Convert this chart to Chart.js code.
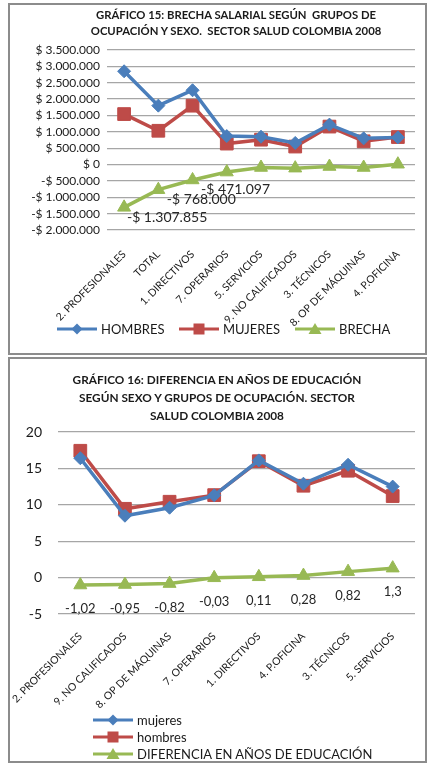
<!DOCTYPE html>
<html>
<head>
<meta charset="utf-8">
<script src="https://cdn.jsdelivr.net/npm/chart.js@4.4.1/dist/chart.umd.min.js"></script>
<style>
  html, body { margin:0; padding:0; background:#fff; }
  body { width:433px; height:771px; position:relative; overflow:hidden; font-family: Lato, "Open Sans", sans-serif; color:#1a1a1a; }
  .box { position:absolute; box-sizing:border-box; border:2px solid #8c8c8c; background:#fff; }
  .box canvas { position:absolute; left:0; top:0; }
  .title { position:absolute; font-weight:bold; text-align:center; white-space:pre; color:#1a1a1a; }
  .leg { position:absolute; display:flex; align-items:center; font-size:13px; color:#1a1a1a; white-space:nowrap; }
  .leg svg { margin-right:4px; }
</style>
</head>
<body>
<div class="box" id="box1" style="left:8px; top:3px; width:419px; height:352px;">
  <canvas id="c1"></canvas>
</div>
<div class="box" id="box2" style="left:8px; top:357px; width:419px; height:406px;">
  <canvas id="c2"></canvas>
</div>

<div class="title" style="left:36px; width:400px; top:7px; font-size:11.3px; line-height:16px;">GRÁFICO 15: BRECHA SALARIAL SEGÚN  GRUPOS DE
OCUPACIÓN Y SEXO.  SECTOR SALUD COLOMBIA 2008</div>
<div class="title" style="left:17px; width:400px; top:371px; font-size:11.8px; line-height:18px;">GRÁFICO 16: DIFERENCIA EN AÑOS DE EDUCACIÓN
SEGÚN SEXO Y GRUPOS DE OCUPACIÓN. SECTOR
SALUD COLOMBIA 2008</div>

<div id="legends"></div>

<script>
// ---------- DATA: Gráfico 15 ----------
const categories1 = ["2. PROFESIONALES","TOTAL","1. DIRECTIVOS","7. OPERARIOS","5. SERVICIOS","9. NO CALIFICADOS","3. TÉCNICOS","8. OP DE MÁQUINAS","4. P.OFICINA"];
const hombres1 = [2850000, 1800000, 2270000, 870000, 850000, 660000, 1220000, 800000, 830000];
const mujeres1 = [1542145, 1032000, 1798903, 640000, 760000, 550000, 1160000, 710000, 840000];
const brecha1  = [-1307855, -768000, -471097, -230000, -90000, -110000, -60000, -90000, 10000];
const labeledBrecha1 = [0, 1, 2];
const yTicks1 = {min: -2000000, max: 3500000, step: 500000};

// ---------- DATA: Gráfico 16 ----------
const categories2 = ["2. PROFESIONALES","9. NO CALIFICADOS","8. OP DE MÁQUINAS","7. OPERARIOS","1. DIRECTIVOS","4. P.OFICINA","3. TÉCNICOS","5. SERVICIOS"];
const mujeres2 = [16.4, 8.5, 9.6, 11.3, 16.1, 12.9, 15.5, 12.5];
const hombres2 = [17.42, 9.45, 10.42, 11.33, 15.99, 12.62, 14.68, 11.2];
const diferencia2 = [-1.02, -0.95, -0.82, -0.03, 0.11, 0.28, 0.82, 1.3];
const yTicks2 = {min: -5, max: 20, step: 5};

const BLUE = '#4a7ebb', RED = '#be4b48', GREEN = '#98b954';
const FONT = 'Lato, "Open Sans", sans-serif';
const TXT = '#1a1a1a';

function money(v){
  const a = Math.abs(v);
  const s = a.toString().replace(/\B(?=(\d{3})+(?!\d))/g, '.');
  return (v < 0 ? '-$ ' : '$ ') + s;
}

const labelPlugin = {
  id: 'ptLabels',
  afterDatasetsDraw(chart, args, opts) {
    if (!opts || !opts.items) return;
    const ctx = chart.ctx;
    const meta = chart.getDatasetMeta(opts.dataset);
    ctx.save();
    ctx.font = opts.font;
    ctx.fillStyle = opts.color;
    ctx.textAlign = 'center';
    ctx.textBaseline = 'middle';
    opts.items.forEach(i => {
      const p = meta.data[i];
      const v = chart.data.datasets[opts.dataset].data[i];
      ctx.fillText(opts.format(v), p.x + opts.dx, p.y + opts.dy);
    });
    ctx.restore();
  }
};

function setupCanvas(id, w, h){
  const c = document.getElementById(id);
  c.width = w; c.height = h;
  c.style.width = w + 'px'; c.style.height = h + 'px';
  return c;
}

function ds(label, data, color, style, radius){
  return {
    label, data,
    borderColor: color, backgroundColor: color,
    pointBackgroundColor: color, pointBorderColor: color,
    borderWidth: 3.5, pointStyle: style, pointRadius: radius, pointHoverRadius: radius,
    pointBorderWidth: 1, tension: 0, fill: false
  };
}

// ---------- Chart 1 ----------
const c1 = setupCanvas('c1', 415, 348);
new Chart(c1, {
  type: 'line',
  data: {
    labels: categories1,
    datasets: [
      ds('HOMBRES', hombres1, BLUE, 'rectRot', 6.5),
      ds('MUJERES', mujeres1, RED, 'rect', 9),
      ds('BRECHA', brecha1, GREEN, 'triangle', 7.5)
    ]
  },
  options: {
    responsive: false, animation: false, devicePixelRatio: 1,
    layout: { padding: { top: 45, left: 0, right: 0, bottom: 0 } },
    plugins: {
      legend: { display: false }, title: { display: false }, tooltip: { enabled: false },
      ptLabels: { dataset: 2, items: labeledBrecha1, dx: 43, dy: 10, font: '14px ' + FONT, color: '#262626', format: money }
    },
    scales: {
      y: {
        min: yTicks1.min, max: yTicks1.max,
        afterFit(s){ s.width = 97; },
        ticks: { stepSize: yTicks1.step, autoSkip: false, padding: 7, color: TXT, font: { family: FONT, size: 12 }, callback: v => money(v) },
        grid: { color: '#a6a6a6', lineWidth: 1.3, drawTicks: false },
        border: { display: false }
      },
      x: {
        offset: true,
        afterFit(s){ s.height = 123; s.paddingLeft = 0; s.paddingRight = 0; },
        ticks: { minRotation: 45, maxRotation: 45, autoSkip: false, padding: 18, color: TXT, font: { family: FONT, size: 10.5 } },
        grid: { display: false, drawTicks: false },
        border: { display: false }
      }
    }
  },
  plugins: [labelPlugin]
});

// ---------- Chart 2 ----------
const c2 = setupCanvas('c2', 415, 402);
new Chart(c2, {
  type: 'line',
  data: {
    labels: categories2,
    datasets: [
      ds('mujeres', mujeres2, BLUE, 'rectRot', 6.5),
      ds('hombres', hombres2, RED, 'rect', 9),
      ds('DIFERENCIA EN AÑOS DE EDUCACIÓN', diferencia2, GREEN, 'triangle', 7.5)
    ]
  },
  options: {
    responsive: false, animation: false, devicePixelRatio: 1,
    layout: { padding: { top: 73, left: 0, right: 0, bottom: 0 } },
    plugins: {
      legend: { display: false }, title: { display: false }, tooltip: { enabled: false },
      ptLabels: { dataset: 2, items: diferencia2.map((_, i) => i), dx: 0, dy: 24, font: '13px ' + FONT, color: '#262626', format: v => String(v).replace('.', ',') }
    },
    scales: {
      y: {
        min: yTicks2.min, max: yTicks2.max,
        afterFit(s){ s.width = 48; },
        ticks: { stepSize: yTicks2.step, autoSkip: false, padding: 16, color: TXT, font: { family: FONT, size: 14 } },
        grid: { color: '#a6a6a6', lineWidth: 1.3, drawTicks: false },
        border: { display: false }
      },
      x: {
        offset: true,
        afterFit(s){ s.height = 147; s.paddingLeft = 0; s.paddingRight = 0; },
        ticks: { minRotation: 45, maxRotation: 45, autoSkip: false, padding: 16, color: TXT, font: { family: FONT, size: 10.5 } },
        grid: { display: false, drawTicks: false },
        border: { display: false }
      }
    }
  },
  plugins: [labelPlugin]
});

// ---------- HTML legends ----------
function icon(color, style){
  let m = '';
  if (style === 'rectRot') m = `<polygon points="20,1.5 25.5,7 20,12.5 14.5,7" fill="${color}"/>`;
  if (style === 'rect') m = `<rect x="14.5" y="1.5" width="11" height="11" fill="${color}"/>`;
  if (style === 'triangle') m = `<polygon points="20,1 26.5,12 13.5,12" fill="${color}"/>`;
  return `<svg width="40" height="14" viewBox="0 0 40 14"><line x1="0" y1="7" x2="40" y2="7" stroke="${color}" stroke-width="3"/>${m}</svg>`;
}
const legendItems = [
  { t: 'HOMBRES', c: BLUE, s: 'rectRot', x: 57, y: 329 },
  { t: 'MUJERES', c: RED, s: 'rect', x: 179, y: 329 },
  { t: 'BRECHA', c: GREEN, s: 'triangle', x: 295, y: 329 },
  { t: 'mujeres', c: BLUE, s: 'rectRot', x: 93, y: 720 },
  { t: 'hombres', c: RED, s: 'rect', x: 93, y: 737 },
  { t: 'DIFERENCIA EN AÑOS DE EDUCACIÓN', c: GREEN, s: 'triangle', x: 93, y: 754 }
];
const L = document.getElementById('legends');
legendItems.forEach(it => {
  const d = document.createElement('div');
  d.className = 'leg';
  d.style.left = it.x + 'px';
  d.style.top = (it.y - 8) + 'px';
  d.style.height = '16px';
  d.innerHTML = icon(it.c, it.s) + '<span>' + it.t + '</span>';
  L.appendChild(d);
});
</script>
</body>
</html>
